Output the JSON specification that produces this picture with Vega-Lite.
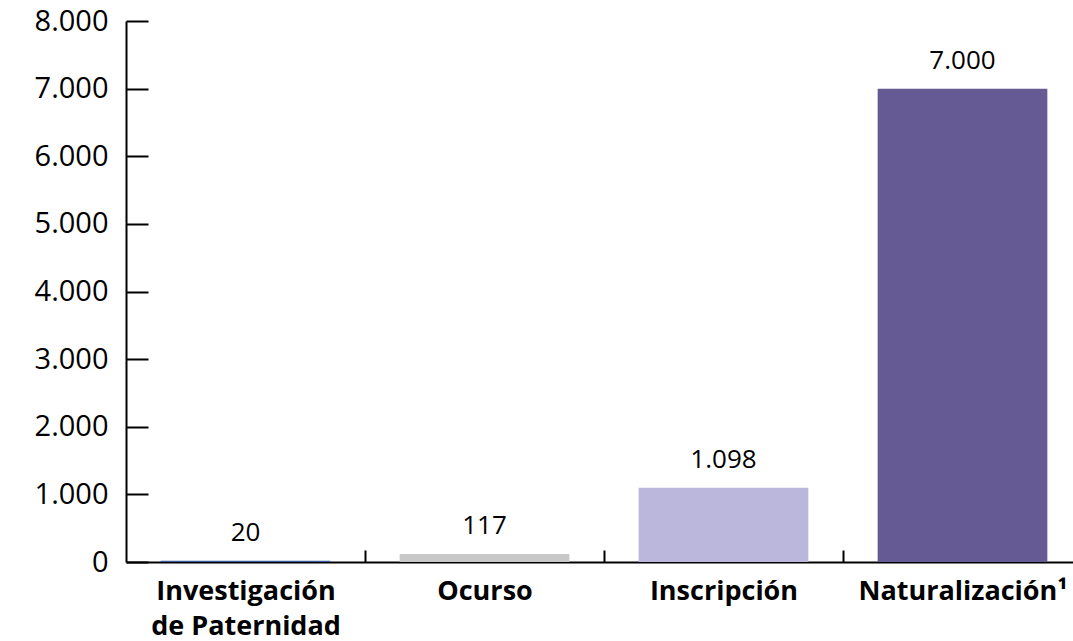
{
  "$schema": "https://vega.github.io/schema/vega-lite/v6.json",
  "autosize": {"type": "none"},
  "padding": {"left": 126, "top": 21, "right": 0, "bottom": 79},
  "width": 956,
  "height": 541,
  "config": {
    "view": {"stroke": null},
    "locale": {"number": {"decimal": ",", "thousands": ".", "grouping": [3], "currency": ["", ""]}},
    "font": "Open Sans"
  },
  "data": {
    "values": [
      {"tipo": "Investigación de Paternidad", "valor": 20},
      {"tipo": "Ocurso", "valor": 117},
      {"tipo": "Inscripción", "valor": 1098},
      {"tipo": "Naturalización¹", "valor": 7000}
    ]
  },
  "encoding": {
    "x": {
      "field": "tipo", "type": "nominal", "sort": null,
      "scale": {"paddingInner": 0.29, "paddingOuter": 0.145},
      "axis": {
        "title": null, "labelAngle": 0, "tickOffset": 119.5, "labelOffset": -119.5, "tickSize": -12, "zindex": 0,
        "tickColor": "black", "tickWidth": 2, "domainColor": "black", "domainWidth": 2,
        "labelFont": "Open Sans", "labelFontSize": 27, "labelFontWeight": "bold", "labelColor": "black",
        "labelPadding": 28, "labelLineHeight": 35, "labelBaseline": "top", "labelLimit": 0,
        "labelExpr": "datum.value == 'Investigación de Paternidad' ? ['Investigación', 'de Paternidad'] : datum.label"
      }
    },
    "y": {
      "field": "valor", "type": "quantitative",
      "scale": {"domain": [0, 8000], "nice": false},
      "axis": {
        "title": null, "values": [0, 1000, 2000, 3000, 4000, 5000, 6000, 7000, 8000], "format": ",d", "grid": false,
        "tickSize": -22, "tickColor": "black", "tickWidth": 2, "domainColor": "black", "domainWidth": 2, "zindex": 0,
        "labelFont": "Open Sans", "labelFontSize": 29, "labelColor": "black", "labelPadding": 40
      }
    }
  },
  "layer": [
    {
      "mark": {"type": "bar"},
      "encoding": {
        "color": {
          "field": "tipo", "type": "nominal", "sort": null, "legend": null,
          "scale": {"domain": ["Investigación de Paternidad", "Ocurso", "Inscripción", "Naturalización¹"], "range": ["#3a5c9c", "#c8c8c8", "#bab6dc", "#655a94"]}
        }
      }
    },
    {
      "mark": {"type": "text", "baseline": "middle", "dy": -28, "fontSize": 26, "font": "Open Sans", "color": "black"},
      "encoding": {"text": {"field": "valor", "type": "quantitative", "format": ",d"}}
    }
  ]
}
